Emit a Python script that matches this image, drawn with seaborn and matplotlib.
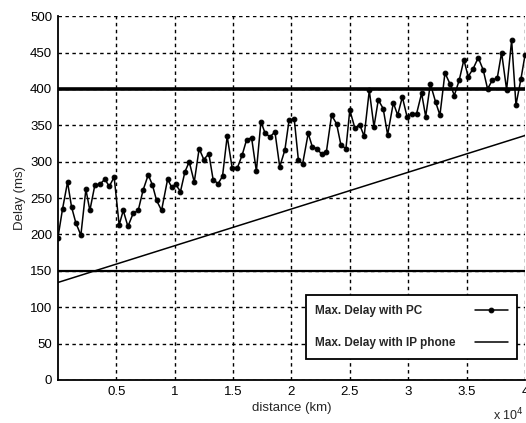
import numpy as np
import pandas as pd
import matplotlib
matplotlib.use("Agg")
import matplotlib.pyplot as plt
import seaborn as sns

# distance in units of 10^4 km
pc_distance = [0, 0.04, 0.083, 0.117, 0.154, 0.197, 0.24, 0.274, 0.317, 0.36,
               0.403, 0.44, 0.482, 0.525, 0.56, 0.60, 0.645, 0.688, 0.73, 0.774,
               0.81, 0.845, 0.888, 0.94, 0.974, 1.008, 1.05, 1.088, 1.125, 1.168,
               1.21, 1.25, 1.293, 1.33, 1.373, 1.41, 1.45, 1.493, 1.536, 1.578,
               1.616, 1.659, 1.70, 1.739, 1.773, 1.816, 1.859, 1.90, 1.944, 1.98,
               2.024, 2.06, 2.096, 2.144, 2.18, 2.22, 2.26, 2.30, 2.344, 2.387,
               2.424, 2.467, 2.50, 2.544, 2.587, 2.623, 2.667, 2.707, 2.744, 2.786,
               2.824, 2.873, 2.91, 2.95, 2.99, 3.03, 3.072, 3.115, 3.15, 3.19,
               3.235, 3.272, 3.315, 3.358, 3.395, 3.437, 3.477, 3.514, 3.557, 3.60,
               3.643, 3.68, 3.72, 3.763, 3.80, 3.843, 3.886, 3.923, 3.966, 4.0]
pc_delay = [195, 235, 272, 238, 216, 199, 262, 233, 268, 269,
            276, 266, 279, 213, 233, 211, 229, 233, 261, 282,
            268, 247, 233, 276, 265, 269, 259, 286, 300, 272,
            318, 303, 311, 275, 270, 280, 335, 291, 291, 309,
            330, 333, 287, 355, 340, 334, 341, 293, 316, 357,
            359, 302, 297, 339, 320, 318, 310, 314, 364, 352,
            323, 318, 371, 346, 350, 335, 398, 348, 385, 373,
            337, 381, 364, 389, 362, 366, 366, 394, 362, 407,
            382, 364, 422, 407, 391, 412, 440, 417, 428, 443,
            426, 400, 412, 415, 450, 399, 467, 378, 414, 446]

phone_distance = [0, 4]
phone_delay = [134, 336]

thresholds = [400, 150]

x_ticks = [0.5, 1, 1.5, 2, 2.5, 3, 3.5, 4]
x_tick_labels = ["0.5", "1", "1.5", "2", "2.5", "3", "3.5", "4"]
y_ticks = [0, 50, 100, 150, 200, 250, 300, 350, 400, 450, 500]

sns.set_style("white")
plt.rcParams['font.family'] = ['Liberation Sans', 'DejaVu Sans']

fig = plt.figure(figsize=(5.26, 4.23), dpi=100)
ax = fig.add_axes([0.110, 0.1017, 0.888, 0.860])

pc_df = pd.DataFrame({"distance": pc_distance, "delay": pc_delay})
ph_df = pd.DataFrame({"distance": phone_distance, "delay": phone_delay})

sns.lineplot(data=pc_df, x="distance", y="delay", ax=ax, color="black",
             linewidth=1.1, marker="o", markersize=3.4, markeredgecolor="black",
             label="Max. Delay with PC", zorder=4)
sns.lineplot(data=ph_df, x="distance", y="delay", ax=ax, color="black",
             linewidth=1.1, label="Max. Delay with IP phone", zorder=4)
for i, t in enumerate(thresholds):
    ax.axhline(t, color="black", linewidth=2.6 if i == 0 else 1.6, zorder=3)

ax.set_xlim(0, 4)
ax.set_ylim(0, 500)
ax.set_xticks(x_ticks)
ax.set_xticklabels(x_tick_labels)
ax.set_yticks(y_ticks)
ax.grid(True, color="black", linestyle=(0, (2.5, 2.5)), linewidth=1.0)
ax.set_axisbelow(True)
for s in ["top", "right"]:
    ax.spines[s].set_visible(False)
for s in ["left", "bottom"]:
    ax.spines[s].set_color("black")
    ax.spines[s].set_linewidth(1.3)
ax.tick_params(axis="both", labelsize=9.5, length=0, pad=4, colors="black")
ax.set_xlabel("distance (km)", fontsize=9.5, labelpad=3)
ax.set_ylabel("Delay (ms)", fontsize=9.5, labelpad=3)
fig.text(0.937, 0.006, "x 10$^{4}$", fontsize=9, va="baseline")

leg = ax.legend(loc="lower right", bbox_to_anchor=(0.983, 0.058), markerfirst=False,
                frameon=True, fancybox=False, edgecolor="black", borderaxespad=0,
                prop={"size": 8.5, "weight": "bold"}, borderpad=0.8,
                labelspacing=1.75, handlelength=2.8, handletextpad=1.6)
leg.get_frame().set_linewidth(1.3)
leg.get_frame().set_alpha(1)

# left-align the labels while keeping the handles at the right edge
fig.canvas.draw()
renderer = fig.canvas.get_renderer()
widths = [t.get_window_extent(renderer).width for t in leg.get_texts()]
wmax = max(widths)
px_per_pt = fig.dpi / 72.0
rows = leg._legend_handle_box.get_children()[0].get_children()
for row, w in zip(rows, widths):
    row.sep = row.sep + (wmax - w) / px_per_pt

fig.savefig("out.png", dpi=100)
